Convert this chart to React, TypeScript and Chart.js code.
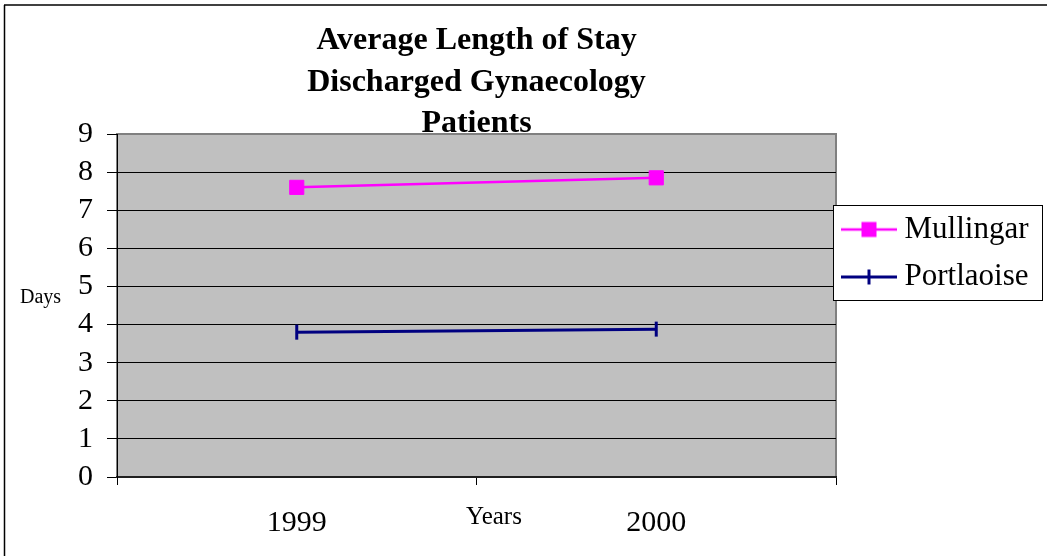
import React, { useEffect, useRef } from 'react';
import { Chart, registerables } from 'chart.js';

Chart.register(...registerables);

// ---- data ----
const categories = ['1999', '2000'];
const seriesNames = ['Mullingar', 'Portlaoise'];
const mullingarValues = [7.6, 7.85];
const portlaoiseValues = [3.8, 3.88];
const yTickValues = [0, 1, 2, 3, 4, 5, 6, 7, 8, 9];
const titleLines = ['Average Length of Stay', 'Discharged Gynaecology', 'Patients'];
const xAxisTitle = 'Years';
const yAxisTitle = 'Days';

const SERIF = "'Liberation Serif', 'Times New Roman', serif";
const W = 1047;
const H = 556;
const MAGENTA = '#FF00FF';
const NAVY = '#000080';

function makeLegendIcon(kind: string): HTMLCanvasElement {
  const c = document.createElement('canvas');
  c.width = 56;
  c.height = 18;
  const g = c.getContext('2d') as CanvasRenderingContext2D;
  if (kind === 'square') {
    g.strokeStyle = MAGENTA;
    g.lineWidth = 2.5;
    g.beginPath();
    g.moveTo(0, 9);
    g.lineTo(56, 9);
    g.stroke();
    g.fillStyle = MAGENTA;
    g.fillRect(28 - 7.5, 9 - 7.5, 15, 15);
  } else {
    g.strokeStyle = NAVY;
    g.lineWidth = 3;
    g.beginPath();
    g.moveTo(0, 9);
    g.lineTo(56, 9);
    g.stroke();
    g.beginPath();
    g.moveTo(28, 1.5);
    g.lineTo(28, 16.5);
    g.stroke();
  }
  return c;
}

const LEGEND_BOX = { left: 833, top: 205, right: 1042, bottom: 300 };

const customPlugin = {
  id: 'customLook',
  beforeLayout(chart: any) {
    const lg = chart.legend;
    if (lg && !lg.__patched) {
      const origFit = lg.fit;
      lg.fit = function () {
        origFit.call(this);
        this.width = W - 836;
      };
      lg._layers = function () {
        return [
          {
            z: 1,
            draw(chartArea: any) {
              const ctx = chart.ctx;
              ctx.save();
              ctx.fillStyle = '#FFFFFF';
              ctx.fillRect(LEGEND_BOX.left, LEGEND_BOX.top, LEGEND_BOX.right - LEGEND_BOX.left, LEGEND_BOX.bottom - LEGEND_BOX.top);
              ctx.strokeStyle = '#000000';
              ctx.lineWidth = 1;
              ctx.strokeRect(LEGEND_BOX.left + 0.5, LEGEND_BOX.top + 0.5, LEGEND_BOX.right - LEGEND_BOX.left, LEGEND_BOX.bottom - LEGEND_BOX.top);
              ctx.restore();
              lg.draw(chartArea);
            },
          },
        ];
      };
      lg.__patched = true;
    }
  },
  afterLayout(chart: any) {
    const lg = chart.legend;
    if (lg) {
      lg.left = 832.5;
      lg.right = 1042;
      lg.top = 197.5;
      lg.bottom = 420;
    }
  },
  beforeDraw(chart: any) {
    const { ctx, chartArea } = chart;
    const { left, top, right, bottom } = chartArea;
    ctx.save();
    ctx.fillStyle = '#C0C0C0';
    ctx.fillRect(left, top, right - left, bottom - top);
    ctx.strokeStyle = '#808080';
    ctx.lineWidth = 2;
    ctx.strokeRect(left, top, right - left, bottom - top);
    // outer frame
    ctx.strokeStyle = '#404040';
    ctx.lineWidth = 2;
    ctx.beginPath();
    ctx.moveTo(4, 5);
    ctx.lineTo(W, 5);
    ctx.stroke();
    ctx.strokeStyle = '#000000';
    ctx.lineWidth = 1.5;
    ctx.beginPath();
    ctx.moveTo(4.5, 5);
    ctx.lineTo(4.5, H);
    ctx.stroke();
    ctx.restore();
  },
  afterDraw(chart: any) {
    const { ctx } = chart;
    ctx.save();
    ctx.fillStyle = '#000000';
    ctx.textBaseline = 'middle';
    ctx.textAlign = 'center';
    ctx.font = `25px ${SERIF}`;
    ctx.fillText(xAxisTitle, 494, 517);
    ctx.textAlign = 'left';
    ctx.font = `20px ${SERIF}`;
    ctx.fillText(yAxisTitle, 20, 298);
    ctx.restore();
  },
};

export default function App() {
  const canvasRef = useRef<HTMLCanvasElement | null>(null);

  useEffect(() => {
    const canvas = canvasRef.current;
    if (!canvas) return;
    const icons = [makeLegendIcon('square'), makeLegendIcon('tick')];

    const chart = new Chart(canvas, {
      type: 'line',
      data: {
        labels: categories,
        datasets: [
          {
            label: seriesNames[0],
            data: mullingarValues,
            borderColor: MAGENTA,
            backgroundColor: MAGENTA,
            borderWidth: 2.5,
            tension: 0,
            pointStyle: 'rect',
            pointRadius: 10,
            pointBorderWidth: 1,
            pointBackgroundColor: MAGENTA,
            pointBorderColor: MAGENTA,
            clip: false,
          },
          {
            label: seriesNames[1],
            data: portlaoiseValues,
            borderColor: NAVY,
            backgroundColor: NAVY,
            borderWidth: 3,
            tension: 0,
            pointStyle: 'line',
            pointRotation: 90,
            pointRadius: 7.5,
            pointBorderWidth: 3,
            pointBorderColor: NAVY,
            clip: false,
          },
        ],
      },
      options: {
        animation: false,
        responsive: false,
        maintainAspectRatio: false,
        events: [],
        layout: { padding: { left: 0, right: 0, top: 0, bottom: 0 } },
        scales: {
          x: {
            type: 'category',
            offset: true,
            grid: {
              display: true,
              offset: true,
              drawOnChartArea: false,
              drawTicks: true,
              tickLength: 8,
              tickColor: '#000000',
              color: '#000000',
            },
            border: { display: true, color: '#202020', width: 2 },
            ticks: {
              color: '#000000',
              font: { family: SERIF, size: 30 },
              padding: 20,
              maxRotation: 0,
              autoSkip: false,
            },
            afterFit(scale: any) {
              scale.height = H - 477;
            },
          },
          y: {
            type: 'linear',
            min: 0,
            max: 9,
            grid: {
              display: true,
              color: (ctx: any) => (ctx.tick && ctx.tick.value === 9 ? '#808080' : '#000000'),
              lineWidth: 1,
              drawTicks: true,
              tickLength: 10,
              tickColor: '#000000',
            },
            border: { display: true, color: '#000000', width: 1 },
            ticks: {
              color: '#000000',
              font: { family: SERIF, size: 30 },
              padding: 14,
              autoSkip: false,
            },
            afterBuildTicks(scale: any) {
              scale.ticks = yTickValues.map((v) => ({ value: v }));
            },
            afterFit(scale: any) {
              scale.width = 117;
            },
          },
        },
        plugins: {
          tooltip: { enabled: false },
          title: {
            display: true,
            text: titleLines,
            color: '#000000',
            fullSize: false,
            font: { family: SERIF, size: 32, weight: 'bold', lineHeight: 1.3 },
            padding: { top: 20, bottom: -10.8 },
          },
          legend: {
            display: true,
            position: 'right',
            align: 'start',
            labels: {
              color: '#000000',
              font: { family: SERIF, size: 31 },
              usePointStyle: true,
              pointStyleWidth: 40,
              padding: 16.5,
              generateLabels(ch: any) {
                const items = Chart.defaults.plugins.legend.labels.generateLabels(ch);
                return items.map((it: any, i: number) => ({
                  ...it,
                  pointStyle: icons[i],
                  rotation: 0,
                  fontColor: '#000000',
                }));
              },
            },
          },
        },
      },
      plugins: [customPlugin],
    } as any);

    return () => {
      chart.destroy();
    };
  }, []);

  return (
    <div style={{ position: 'absolute', left: 0, top: 0, width: W, height: H, background: '#FFFFFF' }}>
      <canvas ref={canvasRef} width={W} height={H} style={{ display: 'block', width: W, height: H }} />
    </div>
  );
}
